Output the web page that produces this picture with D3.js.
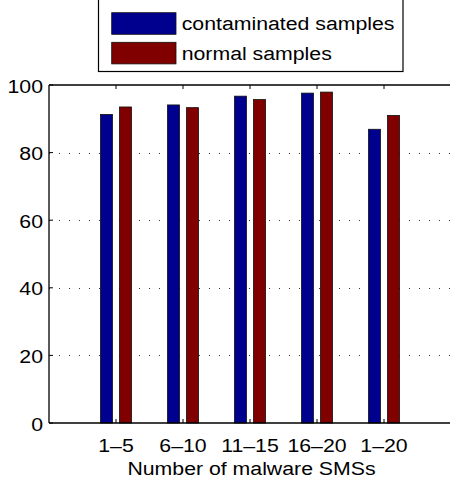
<!DOCTYPE html>
<html>
<head>
<meta charset="utf-8">
<script src="https://cdn.jsdelivr.net/npm/d3@7"></script>
<style>
  body { margin: 0; background: #fff; }
  svg { display: block; }
  text { font-family: "Liberation Sans", Arial, Helvetica, sans-serif; fill: #000; }
</style>
</head>
<body>
<svg id="chart"></svg>
<script>
// groups on the x axis
var groups = ["1\u20135", "6\u201310", "11\u201315", "16\u201320", "1\u201320"];
// detection rate (%) per group
var contaminated = [91.3, 94.1, 96.7, 97.6, 86.9];
var normal = [93.5, 93.3, 95.7, 97.9, 91.0];
var seriesNames = ["contaminated samples", "normal samples"];
var yTicks = [0, 20, 40, 60, 80, 100];

var width = 450;
var height = 478;
var fontSize = 19;
var stretch = 1.12; // text in the original is a bit wide

var svg = d3.select("#chart")
  .attr("width", width)
  .attr("height", height);

// axis box: left 49, top 85, bottom 423, right edge falls off the page
var x = d3.scaleLinear().domain([0, 6]).range([49, 451]);
var y = d3.scaleLinear().domain([0, 100]).range([423, 85]);

var colors = ["#00008f", "#800000"];
var barW = x(0.18) - x(0);
var offset = x(0.142) - x(0);

// helper for the slightly stretched labels
function label(g, tx, ty, str, anchor) {
  return g.append("text")
    .attr("transform", "translate(" + tx + "," + ty + ") scale(" + stretch + ",1)")
    .attr("text-anchor", anchor || "start")
    .attr("font-size", fontSize + "px")
    .text(str);
}

// dotted grid lines
svg.append("g")
  .selectAll("line")
  .data(yTicks.filter(d => d > 0 && d < 100))
  .enter()
  .append("line")
  .attr("x1", x(0))
  .attr("x2", x(6))
  .attr("y1", d => Math.round(y(d)) + 0.5)
  .attr("y2", d => Math.round(y(d)) + 0.5)
  .attr("stroke", "#333")
  .attr("stroke-width", 1)
  .attr("stroke-dasharray", "1,9");

// bars, both series
var series = [contaminated, normal];
series.forEach(function(vals, s) {
  svg.append("g")
    .selectAll("rect")
    .data(vals)
    .enter()
    .append("rect")
    .attr("x", (d, i) => x(i + 1) + (s === 0 ? -offset : offset) - barW / 2)
    .attr("y", d => y(d))
    .attr("width", barW)
    .attr("height", d => y(0) - y(d))
    .attr("fill", colors[s])
    .attr("stroke", "#111")
    .attr("stroke-width", 0.8);
});

// axes box lines
var axisG = svg.append("g").attr("stroke", "#000").attr("stroke-width", 1.3);
axisG.append("line").attr("x1", x(0)).attr("x2", x(6)).attr("y1", y(0)).attr("y2", y(0));
axisG.append("line").attr("x1", x(0)).attr("x2", x(6)).attr("y1", y(100)).attr("y2", y(100));
axisG.append("line").attr("x1", x(0)).attr("x2", x(0)).attr("y1", y(0)).attr("y2", y(100));

// inward ticks
var tickLen = 4;
var tickG = svg.append("g").attr("stroke", "#000").attr("stroke-width", 1);
groups.forEach(function(g, i) {
  tickG.append("line").attr("x1", x(i + 1)).attr("x2", x(i + 1))
    .attr("y1", y(0)).attr("y2", y(0) - tickLen);
  tickG.append("line").attr("x1", x(i + 1)).attr("x2", x(i + 1))
    .attr("y1", y(100)).attr("y2", y(100) + tickLen);
});
yTicks.forEach(function(t) {
  tickG.append("line").attr("x1", x(0)).attr("x2", x(0) + tickLen)
    .attr("y1", y(t)).attr("y2", y(t));
});

// tick labels
var labels = svg.append("g");
yTicks.forEach(function(t) {
  label(labels, x(0) - 6, y(t) + 7.5, String(t), "end");
});
groups.forEach(function(g, i) {
  label(labels, x(i + 1), 451.5, g, "middle");
});

// x axis title
label(labels, 251.5, 475, "Number of malware SMSs", "middle");

// legend box, top is cut off by the page edge
var legend = svg.append("g");
legend.append("rect")
  .attr("x", 98.5)
  .attr("y", -10)
  .attr("width", 304.5)
  .attr("height", 81.5)
  .attr("fill", "#fff")
  .attr("stroke", "#000")
  .attr("stroke-width", 1.2);

seriesNames.forEach(function(name, s) {
  var top = s === 0 ? 12.7 : 42.3;
  legend.append("rect")
    .attr("x", 111.7)
    .attr("y", top)
    .attr("width", 64.3)
    .attr("height", 21.6)
    .attr("fill", colors[s])
    .attr("stroke", "#111")
    .attr("stroke-width", 0.8);
  label(legend, 181.7, top + 17.3, name, "start");
});
</script>
</body>
</html>
